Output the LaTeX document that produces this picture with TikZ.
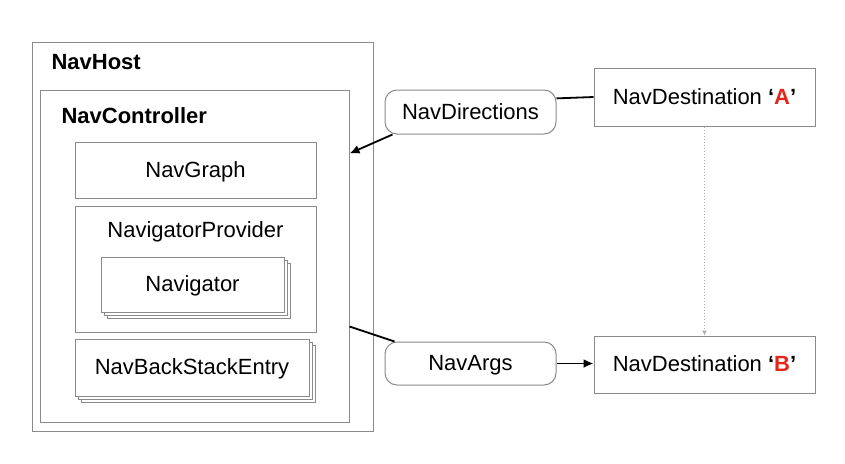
\documentclass[tikz,border=0pt]{standalone}
\usepackage{fontspec}
\setmainfont{Liberation Sans}
\usepackage{xcolor}
\usepackage{tikz}
\usetikzlibrary{arrows.meta, shadows}
\definecolor{navFrame}{HTML}{8A8A8A}
\definecolor{navRed}{HTML}{E3281B}
\definecolor{navDots}{HTML}{AAAAAA}

\begin{document}
\begin{tikzpicture}[
  x=1pt, y=-1pt,
  font=\fontsize{22}{26}\selectfont,
  every node/.style={text height=16pt, text depth=1.5pt},
  box/.style={draw=navFrame, line width=1pt, fill=white, inner sep=0pt},
  stackbox/.style={box, double copy shadow={shadow xshift=3pt, shadow yshift=-3pt,
                   draw=navFrame, fill=white}},
  pill/.style={box, rounded corners=12pt},
  title/.style={anchor=west, font=\fontsize{22}{26}\selectfont\bfseries},
  a/.style={-{Latex[length=10pt, width=9pt]}, line width=1.8pt},
  link/.style={line width=1.8pt},
  dots/.style={-{Latex[length=5pt, width=5pt]}, draw=navDots, line width=1pt, dotted}
]
\useasboundingbox (0,0) rectangle (845,463);

\node[box, minimum width=341pt, minimum height=389pt] (host) at (202.5,236.5) {};
\node[title] (hostlabel) at (48,62) {NavHost};
\node[box, minimum width=309pt, minimum height=332pt] (ctrl) at (194.5,256) {};
\node[title] (ctrllabel) at (58,116) {NavController};

\node[box, minimum width=241pt, minimum height=56pt] (graph) at (195.5,170) {NavGraph};
\node[box, minimum width=241pt, minimum height=126pt] (provider) at (195.5,269) {};
\node (providerlabel) at (195.5,230) {NavigatorProvider};
\node[stackbox, minimum width=183pt, minimum height=55pt] (navigator) at (192.5,284.5) {Navigator};
\node[stackbox, minimum width=234pt, minimum height=57pt] (backstack) at (192,367.5) {NavBackStackEntry};

\node[pill, minimum width=171pt, minimum height=44pt] (dirs) at (470.5,112) {NavDirections};
\node[pill, minimum width=171pt, minimum height=43pt] (args) at (470.5,363.5) {NavArgs};

\node[box, minimum width=221pt, minimum height=58pt] (destA) at (704.5,97)
  {NavDestination \textbf{‘\textcolor{navRed}{A}’}};
\node[box, minimum width=221pt, minimum height=57pt] (destB) at (704.5,364.5)
  {NavDestination \textbf{‘\textcolor{navRed}{B}’}};

\draw[link] (destA.west) -- (dirs.9);
\draw[a] ([xshift=8pt]dirs.south west) -- ([yshift=-64pt]ctrl.north east);
\draw[link] ([yshift=96pt]ctrl.south east) -- ([xshift=10pt]args.north west);
\draw[a] (args.east) -- (args.east -| destB.west);
\draw[dots] (destA.south) -- (destB.north);
\end{tikzpicture}
\end{document}
